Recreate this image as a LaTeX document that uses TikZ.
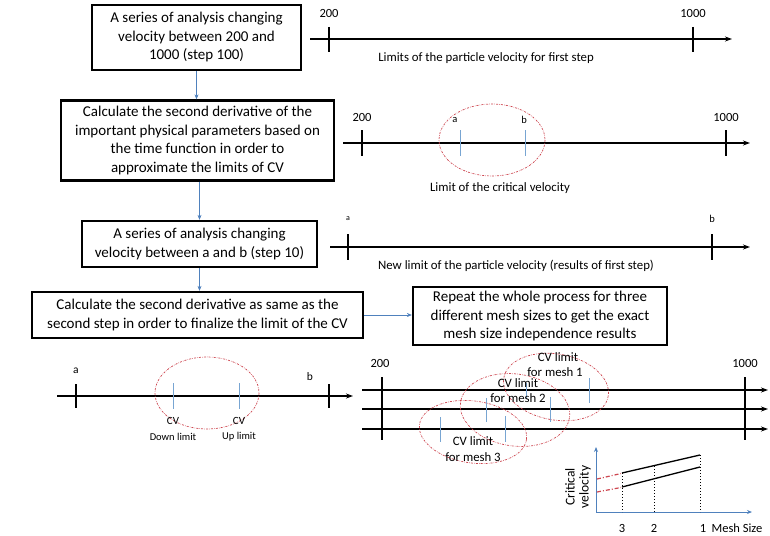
\documentclass[tikz,border=0pt]{standalone}
\usepackage{fontspec}
\setmainfont{Carlito}
\usetikzlibrary{arrows.meta, positioning, calc}

\definecolor{flowblue}{RGB}{79,129,189}
\definecolor{tickblue}{RGB}{120,165,210}
\definecolor{limitred}{RGB}{205,70,80}

\tikzset{
  stepbox/.style={draw=black, line width=2.3pt, align=center, inner sep=0pt,
    font=\fontsize{15}{18.5}\selectfont},
  flow/.style={draw=flowblue, line width=0.6pt, -{Stealth[length=5pt,width=4pt]}},
  axis/.style={line width=1.4pt, -{Stealth[length=7pt,width=5pt]}},
  bar/.style={line width=1.4pt},
  cvtick/.style={tickblue, line width=1pt},
  cvzone/.style={limitred, line width=0.7pt, dash pattern=on 2pt off 1.2pt on 0.5pt off 1.2pt},
  lbl/.style={font=\fontsize{12.8}{15}\selectfont, inner sep=0pt},
  small/.style={font=\fontsize{10.5}{12}\selectfont, inner sep=0pt},
  num/.style={font=\fontsize{12.5}{14}\selectfont, inner sep=0pt},
}

\begin{document}
\begin{tikzpicture}[x=1pt, y=-1pt]

  \useasboundingbox (0,0) rectangle (770,535);

  % Flow chart steps
  \node[stepbox, minimum width=209pt, minimum height=65pt] (first) at (196.5,37.5)
    {A series of analysis changing\\velocity between 200 and\\1000 (step 100)};
  \node[stepbox, minimum width=273pt, minimum height=80pt] (deriv) at (197.5,140.5)
    {Calculate the second derivative of the\\important physical parameters based on\\the time function in order to\\approximate the limits of CV};
  \node[stepbox, minimum width=235pt, minimum height=46pt] (second) at (199.5,244)
    {A series of analysis changing\\velocity between a and b (step 10)};
  \node[stepbox, minimum width=331pt, minimum height=46pt] (final) at (197.5,315)
    {Calculate the second derivative as same as the\\second step in order to finalize the limit of the CV};
  \node[stepbox, minimum width=254pt, minimum height=58pt] (repeat) at (540,316)
    {Repeat the whole process for three\\different mesh sizes to get the exact\\mesh size independence results};

  \draw[flow] (first.south) -- (first.south |- deriv.north);
  \draw[flow] (deriv.south -| second.north) -- (second.north);
  \draw[flow] (second.south) -- (second.south |- final.north);
  \draw[flow] (final.east) -- (final.east -| repeat.west);

  % Axis 1: first velocity range
  \draw[axis] (310,39) -- (732,39);
  \foreach \x in {329,693} \draw[bar] (\x,27) -- (\x,52);
  \node[num] (lo1) at (329,13) {200};
  \node[num] (hi1) at (693,13) {1000};
  \node[lbl] (txt1) at (486,58) {Limits of the particle velocity for first step};

  % Axis 2: approximate critical velocity
  \draw[axis] (343,143) -- (750,143);
  \foreach \x in {362,726} \draw[bar] (\x,130) -- (\x,156);
  \foreach \x in {460,525} \draw[cvtick] (\x,130) -- (\x,156);
  \draw[cvzone] (492,140) ellipse [x radius=53, y radius=36];
  \node[num] (lo2) at (362,117) {200};
  \node[num] (hi2) at (726,117) {1000};
  \node[small] (a2) at (455,120) {a};
  \node[small] (b2) at (524,120) {b};
  \node[lbl] (txt2) at (500,188) {Limit of the critical velocity};

  % Axis 3: refined range
  \draw[axis] (330,247) -- (750,247);
  \foreach \x in {348,712} \draw[bar] (\x,234) -- (\x,260);
  \node[small, font=\fontsize{8}{10}\selectfont] (a3) at (348,219) {a};
  \node[small] (b3) at (712,219) {b};
  \node[lbl] (txt3) at (516,266) {New limit of the particle velocity (results of first step)};

  % Axis 4: final CV limits
  \draw[axis] (57,396) -- (353,396);
  \foreach \x in {76,329} \draw[bar] (\x,384) -- (\x,408);
  \foreach \x in {173,239} \draw[cvtick] (\x,383) -- (\x,409);
  \draw[cvzone] (207,393) ellipse [x radius=52, y radius=36];
  \node[small, font=\fontsize{11.5}{13}\selectfont] (a4) at (76,371) {a};
  \node[small, font=\fontsize{11.5}{13}\selectfont] (b4) at (310,377) {b};
  \node[small, font=\fontsize{11}{12}\selectfont] (cvdown) at (173,421) {CV};
  \node[small] (down) at (173,437) {Down limit};
  \node[small, font=\fontsize{11}{12}\selectfont] (cvup) at (239,421) {CV};
  \node[small] (up) at (239,437) {Up limit};

  % Axis 5: one line per mesh
  \foreach \y in {390,409,429} \draw[axis] (362,\y) -- (768,\y);
  \foreach \x in {382,745} \draw[bar] (\x,377) -- (\x,440);
  \node[num] (lo5) at (380,363) {200};
  \node[num] (hi5) at (745,363) {1000};
  \foreach \x/\ya/\yb in {526/383/399, 589/378/403, 486/398/422, 550/397/422, 440/417/442, 505/416/442}
    \draw[cvtick] (\x,\ya) -- (\x,\yb);
  \draw[cvzone, rotate around={-10:(556,387)}] (556,387) ellipse [x radius=53, y radius=33];
  \draw[cvzone, rotate around={-8:(515,410)}] (515,410) ellipse [x radius=55, y radius=36];
  \draw[cvzone, rotate around={-8:(473,432)}] (473,432) ellipse [x radius=54, y radius=31];
  \node[lbl] (cv1) at (558,357) {CV limit};
  \node[lbl] (mesh1) at (555,372) {for mesh 1};
  \node[lbl] (cv2) at (518,383) {CV limit};
  \node[lbl] (mesh2) at (518,398) {for mesh 2};
  \node[lbl] (cv3) at (473,441) {CV limit};
  \node[lbl] (mesh3) at (473,457) {for mesh 3};

  % Mesh independence sketch
  \draw[flowblue, line width=1pt, -{Stealth[length=5pt,width=4pt]}] (596,512) -- (596,447);
  \draw[flowblue, line width=1pt, -{Stealth[length=5pt,width=4pt]}] (596,512) -- (752,512);
  \draw[line width=1.3pt] (622,473) -- (700,455);
  \draw[line width=1.3pt] (622,487) -- (700,467);
  \draw[dotted, line width=1pt] (622,473) -- (622,512);
  \draw[dotted, line width=1pt] (654,466) -- (654,512);
  \draw[dotted, line width=1pt] (700,455) -- (700,512);
  \draw[limitred, line width=1.2pt, dash pattern=on 4pt off 2pt on 1pt off 2pt] (597,479) -- (621,473.5);
  \draw[limitred, line width=1.2pt, dash pattern=on 4pt off 2pt on 1pt off 2pt] (597,492) -- (621,487.5);
  \node[num] (m3) at (622,528) {3};
  \node[num] (m2) at (654,528) {2};
  \node[num] (m1) at (703,528) {1};
  \node[num] (msize) at (737,528) {Mesh Size};
  \node[inner sep=0pt, rotate=90, align=center, font=\fontsize{13.5}{14}\selectfont] (crit) at (578,487) {Critical\\velocity};

\end{tikzpicture}
\end{document}
